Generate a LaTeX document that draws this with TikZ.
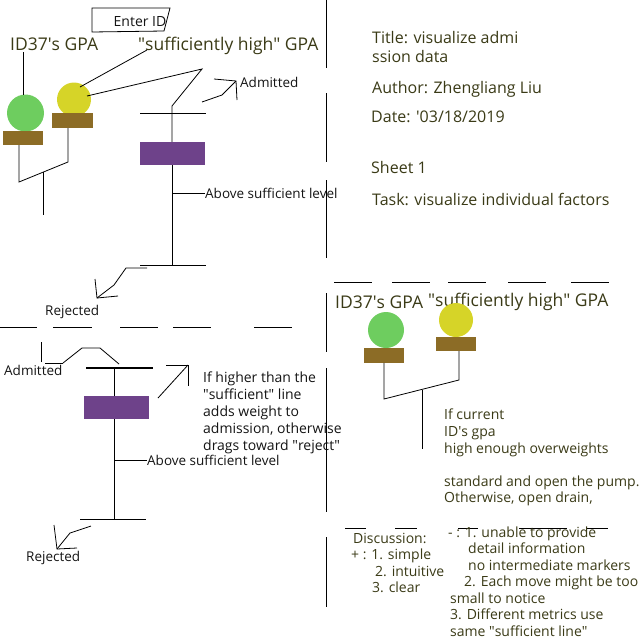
\documentclass[tikz,border=0pt]{standalone}
\usepackage{fontspec}
\setmainfont{Open Sans}
\definecolor{txtol}{RGB}{58,58,22}
\definecolor{txtblk}{RGB}{20,20,20}
\definecolor{gpagreen}{RGB}{110,205,95}
\definecolor{gpayellow}{RGB}{214,212,40}
\definecolor{platebrown}{RGB}{140,108,38}
\definecolor{barpurple}{RGB}{110,66,138}
\newcommand{\dq}{\textquotedbl}
\newcommand{\sq}{\textquotesingle}
\begin{document}
\begin{tikzpicture}[x=1pt,y=-1pt,
  ln/.style={line width=0.8pt, black},
  thickln/.style={line width=1.6pt, black},
  divider/.style={line width=0.9pt, black},
  lbl/.style={inner sep=0pt, anchor=base west, text=txtblk, font=\fontsize{13.5}{16}\selectfont},
  big/.style={inner sep=0pt, anchor=base west, text=txtol, font=\fontsize{17.5}{21}\selectfont},
  mid/.style={inner sep=0pt, anchor=base west, text=txtol, font=\fontsize{16}{19}\selectfont},
  sml/.style={inner sep=0pt, anchor=base west, text=txtol, font=\fontsize{14}{17}\selectfont},
  note/.style={inner sep=0pt, anchor=base west, text=txtblk, font=\fontsize{14}{17}\selectfont},
  gdot/.style={circle, fill=gpagreen, inner sep=0pt, minimum size=37pt},
  ydot/.style={circle, fill=gpayellow, inner sep=0pt, minimum size=34pt},
  plate/.style={rectangle, fill=platebrown, inner sep=0pt, minimum width=40pt, minimum height=14.5pt},
  bar/.style={rectangle, fill=barpurple, inner sep=0pt, minimum width=65pt, minimum height=23pt},
]
\useasboundingbox (0,0) rectangle (640,640);

% ---------------- dividers ----------------
\foreach \a/\b in {0/68, 93/162, 180/258, 293/352, 368/512, 537/607}
  \draw[divider] (326,\a) -- (326,\b);
\foreach \a/\b in {334/372, 392/430, 448/486, 508/546, 571/609}
  \draw[divider] (\a,282) -- (\b,282);
\foreach \a/\b in {0/37, 53/92, 120/158, 173/211, 254/292}
  \draw[divider] (\a,327) -- (\b,327);
\foreach \a/\b in {345/366, 395/417, 458/478, 519/567, 587/608}
  \draw[ln] (\a,528) -- (\b,528);

% ---------------- top-left sheet ----------------
\node[note, anchor=base] (enter) at (140,26) {Enter ID};
\coordinate (e1) at (92,8); \coordinate (e2) at (170,8);
\coordinate (e3) at (164,31); \coordinate (e4) at (92,32);
\draw[ln] (e1) -- (e2) -- (e3) -- (e4) -- cycle;

\node[big] (idA) at (10,50) {ID37\sq s GPA};
\node[big] (sufA) at (138,50) {\dq sufficiently high\dq\ GPA};

\node[gdot] (gA) at (25.5,113) {};
\node[plate] (pA) at (23,138) {};
\node[ydot] (yA) at (74,99.5) {};
\node[plate, minimum width=41pt] (qA) at (72.5,120.5) {};

\coordinate (idAl) at (23,52); \coordinate (gAt) at (23,95);
\draw[ln] (idAl) -- (gAt);
\coordinate (sufAl) at (147,50); \coordinate (yAl) at (80,87);
\draw[ln] (sufAl) -- (yAl);

\coordinate (pAb) at (19,145); \coordinate (jA1) at (19,182);
\coordinate (jA2) at (68,162); \coordinate (qAb) at (68,128);
\draw[ln] (pAb) -- (jA1) -- (jA2) -- (qAb);
\coordinate (jAm) at (43,172); \coordinate (jAe) at (43,215);
\draw[ln] (jAm) -- (jAe);

\node[bar] (barA) at (172.5,153.5) {};
\coordinate (yAr) at (87,96); \coordinate (vA) at (202,69); \coordinate (vB) at (172,106);
\draw[ln] (yAr) -- (vA) -- (vB) -- (barA.north -| vB);
\coordinate (wA1) at (140,113); \coordinate (wA2) at (206,113);
\draw[ln] (wA1) -- (wA2);
\coordinate (wA3) at (140,265); \coordinate (wA4) at (206,265);
\draw[ln] (barA.south -| vB) -- (172,265);
\draw[ln] (wA3) -- (wA4);

\node[lbl] (aboveA) at (205,198) {Above sufficient level};
\coordinate (tA) at (172,193);
\draw[ln] (tA) -- (aboveA.west |- tA);

\node[lbl] (admA) at (240,87) {Admitted};
\coordinate (aA1) at (202,102); \coordinate (aA2) at (222,95); \coordinate (aA3) at (236,81);
\draw[ln] (aA1) -- (aA2) -- (aA3);
\coordinate (aA4) at (214,79); \coordinate (aA5) at (237,100);
\draw[ln] (aA4) -- (aA3) -- (aA5);

\node[lbl] (rejA) at (45,315) {Rejected};
\coordinate (rA1) at (147,268); \coordinate (rA2) at (126,268);
\coordinate (rA3) at (114,285); \coordinate (rA4) at (97,298);
\draw[ln] (rA1) -- (rA2) -- (rA3) -- (rA4);
\coordinate (rA5) at (95,279); \coordinate (rA6) at (118,296);
\draw[ln] (rA5) -- (rA4) -- (rA6);

% ---------------- top-right sheet ----------------
\node[mid] (title1) at (372,43.5) {Title: visualize admi};
\node[mid] (title2) at (372,62.5) {ssion data};
\node[mid] (author) at (372,93.5) {Author: Zhengliang Liu};
\node[mid] (date) at (371,122.5) {Date: \sq 03/18/2019};
\node[mid] (sheet) at (371,173.5) {Sheet 1};
\node[mid] (task) at (372,205.5) {Task: visualize individual factors};

% ---------------- bottom-left sheet ----------------
\node[bar] (barB) at (116.5,407.5) {};
\coordinate (wB1) at (86,368); \coordinate (wB2) at (153,368);
\draw[thickln] (wB1) -- (wB2);
\coordinate (vB1) at (114,368);
\draw[ln] (vB1) -- (barB.north -| vB1);
\coordinate (vB2) at (114,519);
\draw[ln] (barB.south -| vB1) -- (vB2);
\coordinate (wB3) at (80,519); \coordinate (wB4) at (146,519);
\draw[ln] (wB3) -- (wB4);

\node[lbl] (aboveB) at (147,465) {Above sufficient level};
\coordinate (tB) at (114,460);
\draw[ln] (tB) -- (aboveB.west |- tB);

\node[lbl] (admB) at (4,375) {Admitted};
\coordinate (aB1) at (119,364); \coordinate (aB2) at (100,348);
\coordinate (aB3) at (82,348); \coordinate (aB4) at (63,363);
\draw[ln] (aB1) -- (aB2) -- (aB3) -- (aB4);
\coordinate (aB5) at (45,363);
\draw[ln] (aB4) -- (aB5);
\coordinate (aB6) at (41,342); \coordinate (aB7) at (41,362);
\draw[ln] (aB6) -- (aB7);

\node[lbl] (rejB) at (26,561) {Rejected};
\coordinate (rB1) at (91,526); \coordinate (rB2) at (70,533); \coordinate (rB3) at (57,549);
\draw[ln] (rB1) -- (rB2) -- (rB3);
\coordinate (rB4) at (54,525); \coordinate (rB5) at (77,548);
\draw[ln] (rB4) -- (rB3) -- (rB5);

\coordinate (nB1) at (158,398); \coordinate (nB2) at (188,365);
\coordinate (nB3) at (166,365); \coordinate (nB4) at (188,386);
\draw[ln] (nB1) -- (nB2);
\draw[ln] (nB3) -- (nB2) -- (nB4);

\node[note] (ifB1) at (203,382) {If higher than the};
\node[note] (ifB2) at (203,399) {\dq sufficient\dq\ line};
\node[note] (ifB3) at (203,416) {adds weight to};
\node[note] (ifB4) at (203,433) {admission, otherwise};
\node[note] (ifB5) at (203,450) {drags toward \dq reject\dq};

% ---------------- bottom-right sheet ----------------
\node[big] (idC) at (335,308) {ID37\sq s GPA};
\node[big] (sufC) at (428,306) {\dq sufficiently high\dq\ GPA};
\node[gdot, minimum size=36pt] (gC) at (386,330) {};
\node[plate] (pC) at (384,355.5) {};
\node[ydot] (yC) at (456,320) {};
\node[plate, minimum height=14pt] (qC) at (456,344) {};

\coordinate (jC1) at (384,399); \coordinate (jC2) at (459,380);
\draw[ln] (pC.south -| jC1) -- (jC1) -- (jC2) -- (qC.south -| jC2);
\coordinate (jCm) at (422,389.5); \coordinate (jCe) at (422,449);
\draw[ln] (jCm) -- (jCe);

\node[sml] (ifC1) at (444,419) {If current};
\node[sml] (ifC2) at (444,436) {ID\sq s gpa};
\node[sml] (ifC3) at (444,453) {high enough overweights};
\node[sml] (ifC4) at (444,486) {standard and open the pump.};
\node[sml] (ifC5) at (444,502) {Otherwise, open drain,};

\node[sml] (disc) at (353,543) {Discussion:};
\node[sml] (plus1) at (351,559.5) {+ : 1. simple};
\node[sml] (plus2) at (375,576) {2. intuitive};
\node[sml] (plus3) at (372,592.5) {3. clear};

\node[sml] (min1) at (448,537) {- : 1. unable to provide};
\node[sml] (min2) at (468,553.5) {detail information};
\node[sml] (min3) at (468,570) {no intermediate markers};
\node[sml] (min4) at (464,586.5) {2. Each move might be too};
\node[sml] (min5) at (450,603) {small to notice};
\node[sml] (min6) at (450,619.5) {3. Different metrics use};
\node[sml] (min7) at (450,636) {same \dq sufficient line\dq};
\end{tikzpicture}
\end{document}
